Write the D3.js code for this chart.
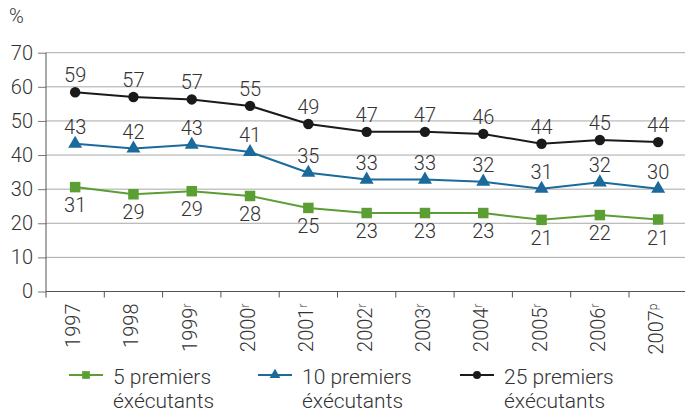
<!DOCTYPE html>
<html>
<head>
<meta charset="utf-8">
<script src="https://cdn.jsdelivr.net/npm/d3@7"></script>
<style>
  body { margin: 0; background: #fff; }
  text { font-family: Roboto, "Liberation Sans", sans-serif; font-weight: 300; fill: #333; }
</style>
</head>
<body>
<div id="chart"></div>
<script>
// data
const years = ["1997", "1998", "1999", "2000", "2001", "2002", "2003", "2004", "2005", "2006", "2007"];
const yearMarks = ["", "", "r", "r", "r", "r", "r", "r", "r", "r", "p"];
const top5 = [30.6, 28.5, 29.4, 28.0, 24.5, 23.0, 23.0, 23.0, 21.0, 22.4, 21.1];
const top10 = [43.3, 41.9, 43.0, 40.9, 34.8, 32.8, 32.8, 32.2, 30.1, 32.0, 30.1];
const top25 = [58.4, 57.0, 56.3, 54.4, 49.1, 46.8, 46.8, 46.2, 43.3, 44.4, 43.8];
const top5Labels = [31, 29, 29, 28, 25, 23, 23, 23, 21, 22, 21];
const top10Labels = [43, 42, 43, 41, 35, 33, 33, 32, 31, 32, 30];
const top25Labels = [59, 57, 57, 55, 49, 47, 47, 46, 44, 45, 44];
const yTicks = [0, 10, 20, 30, 40, 50, 60, 70];

const W = 685, H = 413;
const margin = {top: 52.7, right: 0, bottom: 121.5, left: 46};
const width = W - margin.left - margin.right,
      height = H - margin.top - margin.bottom;

const svg = d3.select("#chart").append("svg")
    .attr("width", W)
    .attr("height", H);
const g = svg.append("g")
    .attr("transform", `translate(${margin.left},${margin.top})`);

const x = d3.scaleBand().domain(years).range([0, 58.3 * years.length]);
const y = d3.scaleLinear().domain([0, 70]).range([height, 0]);

// gridlines
g.append("g")
  .selectAll("line")
  .data(yTicks.filter(d => d > 0))
  .join("line")
    .attr("x1", 0).attr("x2", width)
    .attr("y1", d => y(d)).attr("y2", d => y(d))
    .attr("stroke", "#a8a8a8").attr("stroke-width", 1);

// y axis
const yAxis = g.append("g")
    .call(d3.axisLeft(y).tickValues(yTicks).tickSize(8).tickPadding(5));
yAxis.select(".domain").remove();
yAxis.selectAll(".tick line").attr("stroke", "#777");
yAxis.selectAll(".tick text")
    .attr("font-size", 20).attr("font-family", null).attr("fill", "#333");
g.append("line")
    .attr("x1", 0).attr("x2", 0).attr("y1", 0).attr("y2", height + 6)
    .attr("stroke", "#555");

// x axis
g.append("line")
    .attr("x1", 0).attr("x2", width).attr("y1", height).attr("y2", height)
    .attr("stroke", "#555");
g.append("g")
  .selectAll("line")
  .data(years.slice(1))
  .join("line")
    .attr("x1", d => x(d)).attr("x2", d => x(d))
    .attr("y1", height).attr("y2", height + 6)
    .attr("stroke", "#555");

const xl = g.append("g")
  .selectAll("text")
  .data(years)
  .join("text")
    .attr("transform", d => `translate(${x(d) + x.bandwidth() / 2 - 2},${height + 12}) rotate(-90)`)
    .attr("dy", "0.35em")
    .attr("text-anchor", "end")
    .attr("font-size", 20);
xl.append("tspan").text(d => d);
xl.append("tspan")
    .attr("font-size", 12)
    .attr("baseline-shift", "6")
    .text((d, i) => yearMarks[i]);

// "%" label
svg.append("text")
    .attr("x", 9).attr("y", 23)
    .attr("font-size", 20)
    .text("%");

const series = [
  {name: ["5 premiers", "éxécutants"], values: top5, labels: top5Labels, color: "#5a9e34", marker: "square", dy: 25, lx: 69},
  {name: ["10 premiers", "éxécutants"], values: top10, labels: top10Labels, color: "#1b6a9c", marker: "triangle", dy: -10, lx: 258},
  {name: ["25 premiers", "éxécutants"], values: top25, labels: top25Labels, color: "#1a1a1a", marker: "circle", dy: -10, lx: 460}
];

const symbolFor = {
  square: d3.symbol(d3.symbolSquare, 110),
  triangle: d3.symbol(d3.symbolTriangle, 85),
  circle: d3.symbol(d3.symbolCircle, 85)
};

const line = d3.line()
    .x((d, i) => x(years[i]) + x.bandwidth() / 2)
    .y(d => y(d));

series.forEach(s => {
  g.append("path")
      .datum(s.values)
      .attr("fill", "none")
      .attr("stroke", s.color)
      .attr("stroke-width", 2)
      .attr("d", line);

  g.append("g")
    .selectAll("path")
    .data(s.values)
    .join("path")
      .attr("d", symbolFor[s.marker])
      .attr("transform", (d, i) => `translate(${x(years[i]) + x.bandwidth() / 2},${y(d)})`)
      .attr("fill", s.color);

  g.append("g")
    .selectAll("text")
    .data(s.values)
    .join("text")
      .attr("x", (d, i) => x(years[i]) + x.bandwidth() / 2)
      .attr("y", d => y(d) + s.dy)
      .attr("text-anchor", "middle")
      .attr("font-size", 20)
      .text((d, i) => s.labels[i]);
});

// legend
const legend = svg.append("g");
series.forEach(s => {
  const lg = legend.append("g").attr("transform", `translate(${s.lx},375)`);
  lg.append("line")
      .attr("x1", 0).attr("x2", 34)
      .attr("stroke", s.color).attr("stroke-width", 2);
  lg.append("path")
      .attr("d", d3.symbol(s.marker === "square" ? d3.symbolSquare : s.marker === "triangle" ? d3.symbolTriangle : d3.symbolCircle, s.marker === "square" ? 60 : 50)())
      .attr("transform", "translate(17,0)")
      .attr("fill", s.color);
  lg.append("text")
      .attr("x", 44).attr("y", 9)
      .attr("font-size", 21)
      .text(s.name[0]);
  lg.append("text")
      .attr("x", 44).attr("y", 33)
      .attr("font-size", 21)
      .text(s.name[1]);
});
</script>
</body>
</html>
